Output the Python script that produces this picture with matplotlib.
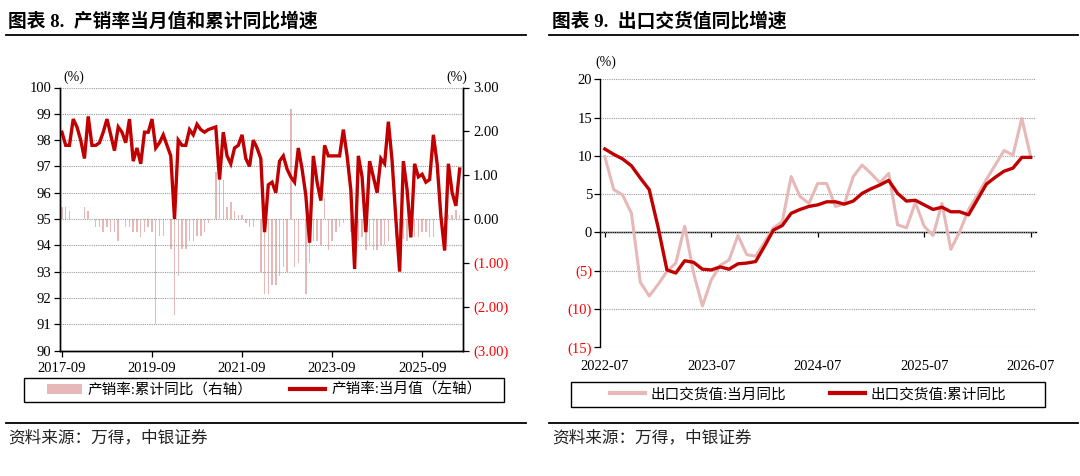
import numpy as np
import matplotlib
matplotlib.use('Agg')
import matplotlib.pyplot as plt
from matplotlib.patches import Patch, Rectangle
from matplotlib.lines import Line2D

plt.rcParams['font.family'] = ['Liberation Serif', 'Noto Sans CJK SC']
plt.rcParams['axes.unicode_minus'] = False

# ---- data: chart 8 (monthly, 2017-09 .. 2026-07) ----
rate_month = [98.3, 97.8, 97.8, 98.8, 98.5, 98.0, 97.3, 98.9, 97.8, 97.8,
              97.9, 98.3, 98.8, 98.2, 97.6, 98.5, 98.3, 97.9, 98.8, 97.2,
              97.7, 97.1, 98.3, 98.3, 98.8, 97.7, 97.9, 98.2, 97.8, 97.4,
              95.0, 98.0, 97.8, 97.8, 98.4, 98.2, 98.6, 98.4, 98.3, 98.4,
              98.45, 98.5, 96.5, 98.3, 97.4, 97.1, 97.7, 97.8, 98.2, 97.3,
              97.0, 98.0, 97.7, 97.3, 94.5, 96.3, 96.4, 96.0, 97.2, 97.4,
              96.9, 96.6, 96.4, 97.7, 96.9, 95.9, 94.1, 97.4, 96.4, 95.7,
              97.8, 97.4, 97.4, 97.4, 97.4, 98.4, 97.4, 96.1, 93.1, 97.4,
              96.6, 94.5, 97.2, 96.6, 96.0, 97.3, 97.1, 98.7, 97.2, 95.0,
              93.0, 97.2, 96.1, 94.3, 97.1, 96.6, 96.7, 96.4, 96.5, 98.2,
              97.1, 95.1, 93.8, 97.1, 96.0, 95.5, 96.9]
nan = np.nan
rate_cum = [0.28, 0.28, 0.18, 0.0, nan, 0.0, 0.28, 0.18, 0.0, -0.19,
            -0.19, -0.3, -0.19, -0.3, -0.3, -0.5, nan, -0.19, -0.19, -0.3,
            -0.3, -0.4, -0.3, -0.19, -0.3, -2.4, -0.38, -0.38, nan, -0.69,
            -2.2, -1.3, -0.69, -0.69, -0.5, -0.5, -0.38, -0.38, -0.29, -0.1,
            nan, 1.08, 0.9, 0.9, 0.28, 0.38, 0.18, 0.09, 0.09, -0.1,
            -0.19, -0.19, nan, -1.2, -1.7, -1.7, -1.5, -1.5, -1.3, -1.1,
            -1.2, 2.5, -1.1, -1.0, nan, -1.7, -1.0, -0.5, -0.5, -0.6,
            0.47, -0.7, -0.5, -0.3, -0.19, -0.1, nan, -0.3, -0.5, -0.5,
            -0.4, -0.7, -0.6, -0.7, -0.7, -0.6, -0.6, -0.5, nan, -0.4,
            -0.45, -0.45, -0.5, -0.4, -0.4, -0.4, -0.3, -0.3, -0.4, -0.4,
            nan, -0.1, 0.05, 0.1, 0.1, 0.2, 0.1]
left_tick_idx = [0, 24, 48, 72, 96]
left_tick_lbl = ['2017-09', '2019-09', '2021-09', '2023-09', '2025-09']

# ---- data: chart 9 (monthly, 2022-07 .. 2026-07) ----
export_month = [9.9, 5.6, 4.9, 2.5, -6.5, -8.3, -6.8, -5.1, -4.0, 0.8,
                -5.3, -9.6, -6.2, -4.3, -3.6, -0.4, -2.9, -3.1, -1.3, 0.6,
                1.4, 7.3, 4.7, 3.8, 6.4, 6.4, 3.4, 3.7, 7.3, 8.8,
                7.7, 6.5, 7.7, 1.0, 0.6, 3.9, 0.8, -0.4, 3.8, -2.2,
                0.1, 3.0, 4.9, 6.9, 8.8, 10.7, 10.1, 14.9, 9.9]
export_cum = [10.9, 10.2, 9.6, 8.7, 7.1, 5.6, 0.7, -4.9, -5.3, -3.7,
              -3.9, -4.8, -4.9, -4.5, -4.8, -4.1, -4.0, -3.8, -1.8, 0.3,
              0.9, 2.5, 3.0, 3.4, 3.6, 4.0, 4.0, 3.7, 4.1, 5.1,
              5.7, 6.2, 6.8, 5.1, 4.1, 4.2, 3.6, 3.0, 3.3, 2.7,
              2.7, 2.3, 4.3, 6.3, 7.2, 8.0, 8.4, 9.8, 9.8]
right_tick_idx = [0, 12, 24, 36, 48]
right_tick_lbl = ['2022-07', '2023-07', '2024-07', '2025-07', '2026-07']

DARK = '#C00000'
PINK = '#E6B9B8'
NEG = '#FF0000'
GRID = '#9A9A9A'

W, H = 1080, 476
fig = plt.figure(figsize=(W / 100, H / 100), dpi=100)


def fx(px):
    return px / W


def fy(py):
    return 1 - py / H


def paren(v, fmt):
    s = fmt.format(abs(v))
    return '(' + s + ')' if v < 0 else s


# ================= chart 8 =================
ax1 = fig.add_axes([fx(59.7), fy(350.5), fx(463.4) - fx(59.7), fy(87.5) - fy(350.5)])
ax2 = ax1.twinx()
xl = np.arange(len(rate_month))
ax2.bar(xl, rate_cum, width=0.4, color=PINK, linewidth=0)
ax1.plot(xl, rate_month, color=DARK, lw=2.4, solid_joinstyle='miter')
ax1.set_zorder(ax2.get_zorder() + 1)
ax1.patch.set_visible(False)

ax1.set_xlim(-0.6, 107)
ax1.set_ylim(90, 100)
ax1.set_yticks(range(90, 101))
ax1.set_xticks(left_tick_idx)
ax1.set_xticklabels(left_tick_lbl)
ax1.yaxis.grid(True, ls=(0, (1, 1)), color=GRID, lw=0.8)
ax2.set_ylim(-3, 3)
r_ticks = list(range(-3, 4))
ax2.set_yticks(r_ticks)
ax2.set_yticklabels([paren(v, '{:.2f}') for v in r_ticks])
for lbl, v in zip(ax2.get_yticklabels(), r_ticks):
    if v < 0:
        lbl.set_color(NEG)
for a in (ax1, ax2):
    a.spines['top'].set_visible(False)
    for s in ('left', 'right', 'bottom'):
        a.spines[s].set_linewidth(1.0)
ax1.tick_params(direction='out', length=4, width=0.9, labelsize=10.5, pad=2)
ax1.tick_params(axis='x', pad=4)
ax2.tick_params(direction='out', length=4, width=0.9, labelsize=10.5, pad=3)

fig.text(fx(74), fy(77), '(%)', fontsize=10, ha='center', va='center')
fig.text(fx(457), fy(77), '(%)', fontsize=10, ha='center', va='center')

# ================= chart 9 =================
ax3 = fig.add_axes([fx(600.4), fy(347.3), fx(1036) - fx(600.4), fy(79.3) - fy(347.3)])
xr = np.arange(len(export_month))
ax3.plot(xr, export_month, color=PINK, lw=2.2)
ax3.plot(xr, export_cum, color=DARK, lw=2.4)
ax3.set_xlim(-0.5, 48.6)
ax3.set_ylim(-15, 20)
y3 = list(range(-15, 21, 5))
ax3.set_yticks(y3)
ax3.set_yticklabels([paren(v, '{:d}') for v in y3])
for lbl, v in zip(ax3.get_yticklabels(), y3):
    if v < 0:
        lbl.set_color(NEG)
ax3.yaxis.grid(True, ls=(0, (1, 1)), color=GRID, lw=0.8)
for s in ('top', 'right', 'bottom'):
    ax3.spines[s].set_visible(False)
ax3.spines['left'].set_linewidth(1.0)
ax3.set_xticks(right_tick_idx)
ax3.set_xticklabels(right_tick_lbl)
ax3.tick_params(axis='x', length=0, labelsize=10.5, pad=9)
ax3.tick_params(axis='y', direction='out', length=4, width=0.9, labelsize=10.5, pad=2)
sec = ax3.secondary_xaxis(15 / 35)
sec.set_xticks(right_tick_idx)
sec.set_xticklabels([])
sec.tick_params(direction='out', length=3.5, width=0.9)
sec.spines['bottom'].set_linewidth(1.0)

fig.text(fx(606), fy(62), '(%)', fontsize=10, ha='center', va='center')

# ================= titles, legends, source =================
fig.text(fx(8), fy(21), '图表 8.  产销率当月值和累计同比增速', fontsize=13.5,
         fontweight='bold', ha='left', va='center')
fig.text(fx(552), fy(21), '图表 9.  出口交货值同比增速', fontsize=13.5,
         fontweight='bold', ha='left', va='center')
for x0, x1 in ((6, 526), (549, 1078)):
    fig.add_artist(Line2D([fx(x0), fx(x1)], [fy(35), fy(35)], color='black',
                          lw=1.3, transform=fig.transFigure))
    fig.add_artist(Line2D([fx(x0), fx(x1)], [fy(423), fy(423)], color='black',
                          lw=1.3, transform=fig.transFigure))

fig.add_artist(Rectangle((fx(24), fy(402)), fx(504) - fx(24), fy(378) - fy(402),
                         fill=False, edgecolor='black', lw=1.0, transform=fig.transFigure))
fig.legend(handles=[Patch(facecolor=PINK, edgecolor='none'),
                    Line2D([], [], color=DARK, lw=3)],
           labels=['产销率:累计同比（右轴）', '产销率:当月值（左轴）'],
           loc='center', bbox_to_anchor=(fx(264), fy(390)), ncol=2, frameon=False,
           fontsize=10.5, handlelength=2.4, handletextpad=0.4, columnspacing=2.6)

fig.add_artist(Rectangle((fx(571), fy(407)), fx(1045) - fx(571), fy(382) - fy(407),
                         fill=False, edgecolor='black', lw=1.0, transform=fig.transFigure))
fig.legend(handles=[Line2D([], [], color=PINK, lw=3), Line2D([], [], color=DARK, lw=3)],
           labels=['出口交货值:当月同比', '出口交货值:累计同比'],
           loc='center', bbox_to_anchor=(fx(808), fy(394.5)), ncol=2, frameon=False,
           fontsize=10.5, handlelength=2.4, handletextpad=0.4, columnspacing=3.0)

fig.text(fx(8), fy(438), '资料来源：万得，中银证券', fontsize=12, ha='left', va='center',
         color='#222222')
fig.text(fx(552), fy(438), '资料来源：万得，中银证券', fontsize=12, ha='left', va='center',
         color='#222222')

fig.savefig('out.png', dpi=100)
